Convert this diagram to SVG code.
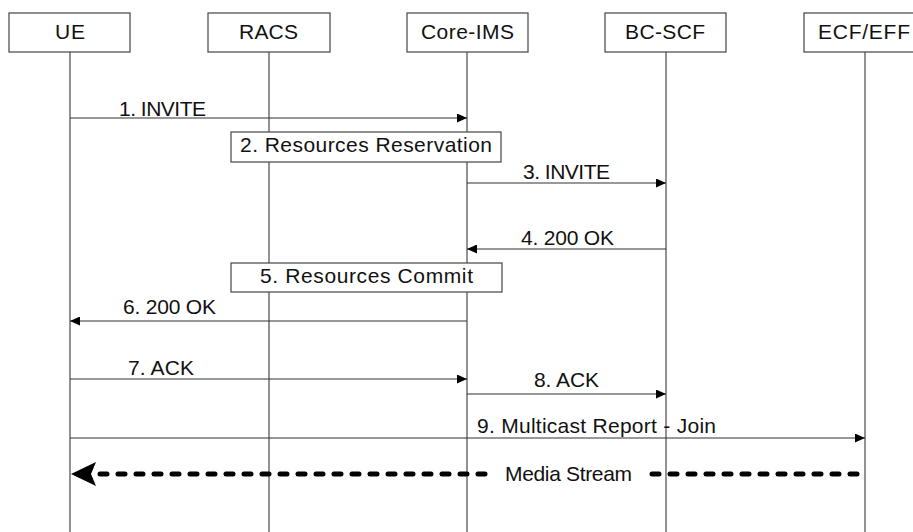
<svg xmlns="http://www.w3.org/2000/svg" width="913" height="532" viewBox="0 0 913 532">
<style>
  text { font-family: "Liberation Sans", Arial, sans-serif; font-size: 21px; fill: #111; }
  .box { fill: #fff; stroke: #444; stroke-width: 1.2; }
  .life { stroke: #777; stroke-width: 1.6; fill: none; }
  .msg { stroke: #333; stroke-width: 1.2; fill: none; }
  .media { stroke: #000; stroke-width: 5; stroke-dasharray: 7 11; stroke-linecap: round; fill: none; }
</style>
<defs>
  <marker id="ah" markerWidth="10" markerHeight="9" refX="10" refY="4.5" orient="auto" markerUnits="userSpaceOnUse">
    <path d="M0,0 L10,4.5 L0,9 Z" fill="#000"/>
  </marker>
</defs>
<rect width="913" height="532" fill="#fff"/>

<g id="lifelines">
  <line class="life" x1="70" y1="52" x2="70" y2="532"/>
  <line class="life" x1="269" y1="52" x2="269" y2="532"/>
  <line class="life" x1="467" y1="52" x2="467" y2="532"/>
  <line class="life" x1="666" y1="52" x2="666" y2="532"/>
  <line class="life" x1="865" y1="52" x2="865" y2="532"/>
</g>

<g id="UE">
  <rect class="box" x="9" y="13" width="121" height="39"/>
  <text x="55" y="39" textLength="30" lengthAdjust="spacing">UE</text>
</g>
<g id="RACS">
  <rect class="box" x="208" y="13" width="122" height="39"/>
  <text x="239" y="39" textLength="59" lengthAdjust="spacing">RACS</text>
</g>
<g id="Core-IMS">
  <rect class="box" x="407" y="13" width="121" height="39"/>
  <text x="421" y="39" textLength="93" lengthAdjust="spacing">Core-IMS</text>
</g>
<g id="BC-SCF">
  <rect class="box" x="605" y="13" width="121" height="39"/>
  <text x="625" y="39" textLength="80" lengthAdjust="spacing">BC-SCF</text>
</g>
<g id="ECF-EFF">
  <rect class="box" x="804" y="13" width="121" height="39"/>
  <text x="818" y="39" textLength="92" lengthAdjust="spacing">ECF/EFF</text>
</g>

<g id="connectors">
  <line class="msg" x1="70" y1="118" x2="467" y2="118" marker-end="url(#ah)"/>
  <line class="msg" x1="467" y1="183" x2="666" y2="183" marker-end="url(#ah)"/>
  <line class="msg" x1="666" y1="249" x2="467" y2="249" marker-end="url(#ah)"/>
  <line class="msg" x1="467" y1="321" x2="70" y2="321" marker-end="url(#ah)"/>
  <line class="msg" x1="70" y1="379" x2="467" y2="379" marker-end="url(#ah)"/>
  <line class="msg" x1="467" y1="394" x2="666" y2="394" marker-end="url(#ah)"/>
  <line class="msg" x1="70" y1="438" x2="865" y2="438" marker-end="url(#ah)"/>
  <path class="media" d="M485,474 L100,474"/>
  <path class="media" d="M652,474 L865,474"/>
  <path d="M71,474 L96,462 L91,474 L96,486 Z" fill="#000"/>
</g>

<g id="step2">
  <rect class="box" x="231" y="132" width="270" height="30"/>
  <text x="240" y="152" textLength="252" lengthAdjust="spacing">2. Resources Reservation</text>
</g>
<g id="step5">
  <rect class="box" x="231" y="263" width="271" height="29"/>
  <text x="260" y="283" textLength="213" lengthAdjust="spacing">5. Resources Commit</text>
</g>

<g id="labels">
  <text x="119" y="116" textLength="87" lengthAdjust="spacing">1. INVITE</text>
  <text x="523" y="179" textLength="87" lengthAdjust="spacing">3. INVITE</text>
  <text x="521" y="245" textLength="93" lengthAdjust="spacing">4. 200 OK</text>
  <text x="123" y="314" textLength="93" lengthAdjust="spacing">6. 200 OK</text>
  <text x="128" y="375" textLength="66" lengthAdjust="spacing">7. ACK</text>
  <text x="534" y="387" textLength="65" lengthAdjust="spacing">8. ACK</text>
  <text x="477" y="433" textLength="239" lengthAdjust="spacing">9. Multicast Report - Join</text>
  <text x="505" y="481" textLength="127" lengthAdjust="spacing">Media Stream</text>
</g>
</svg>
